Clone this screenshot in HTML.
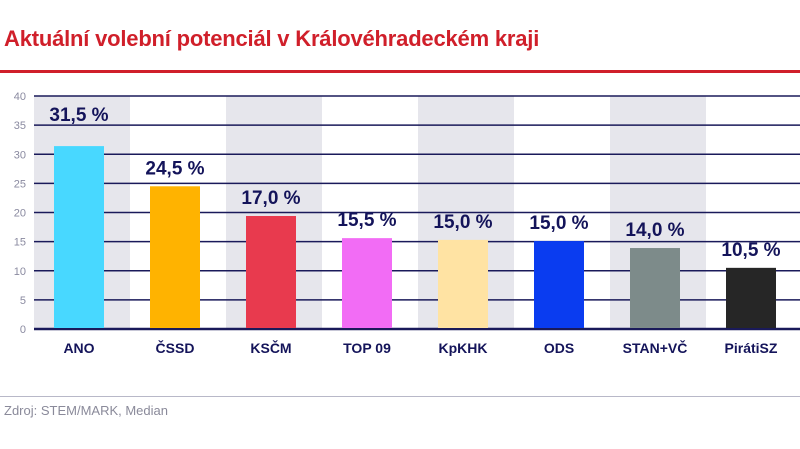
<!DOCTYPE html>
<html><head><meta charset="utf-8"><style>
body{margin:0;width:800px;height:449px;background:#fff;overflow:hidden;font-family:"Liberation Sans",sans-serif;}
#title{position:absolute;left:4px;top:26px;font-size:22px;font-weight:bold;color:#d01f2a;letter-spacing:-0.2px;}
#redline{position:absolute;left:0;top:70px;width:800px;height:3px;background:#d01f2a;}
#grayline{position:absolute;left:0;top:396px;width:800px;height:1px;background:#b8b8c8;}
#source{position:absolute;left:4px;top:403px;font-size:13px;color:#8a8a9a;}
svg{position:absolute;left:0;top:0;}
</style></head><body>
<div id="title">Aktuální volební potenciál v Královéhradeckém kraji</div>
<div id="redline"></div>
<svg id="chart" width="800" height="449"></svg>
<div id="grayline"></div>
<div id="source">Zdroj: STEM/MARK, Median</div>
<script>
const categories=["ANO","ČSSD","KSČM","TOP 09","KpKHK","ODS","STAN+VČ","PirátiSZ"];
const values=[31.4,24.5,19.4,15.6,15.3,15.1,13.9,10.5];
const valueLabels=["31,5 %","24,5 %","17,0 %","15,5 %","15,0 %","15,0 %","14,0 %","10,5 %"];
const colors=["#48d8ff","#ffb300","#e83a4e","#f26cf5","#ffe3a3","#0a3cf0","#7d8b8a","#262626"];
const yTicks=[0,5,10,15,20,25,30,35,40];
const NS="http://www.w3.org/2000/svg";
const svg=document.getElementById('chart');
const x0=34,band=96,y0=329,yTop=96,yMax=40;
const y=v=>y0-(v/yMax)*(y0-yTop);
const bx=i=>x0+i*band;
function mk(t,a){const e=document.createElementNS(NS,t);for(const k in a)e.setAttribute(k,a[k]);svg.appendChild(e);return e;}
categories.forEach((c,i)=>{if(i%2===0){const r=mk('rect',{x:bx(i),y:yTop,width:band,height:y0-yTop,fill:'#e6e6ec'});

}});
yTicks.forEach(t=>{const l=mk('line',{x1:x0,x2:800,y1:y(t),y2:y(t),stroke:'#1a1a5a','stroke-width':t===0?2.5:1.5});


const tx=mk('text',{x:26,y:y(t)+4,'text-anchor':'end','font-size':11,fill:'#8a8aa0'});tx.textContent=t;

});
categories.forEach((c,i)=>{const cx=bx(i)+45;
const r=mk('rect',{x:cx-25,y:y(values[i]),width:50,height:y0-y(values[i])-1,fill:colors[i]});


const ly=y(values[i])-12-(values[i]>30?13:0);
const vl=mk('text',{x:cx,y:ly,'text-anchor':'middle','font-size':19,'font-weight':'bold',fill:'#14145a'});vl.textContent=valueLabels[i];


const cl=mk('text',{x:cx,y:353,'text-anchor':'middle','font-size':14,'font-weight':'bold',fill:'#14145a'});cl.textContent=c;

});
</script>
</body></html>
